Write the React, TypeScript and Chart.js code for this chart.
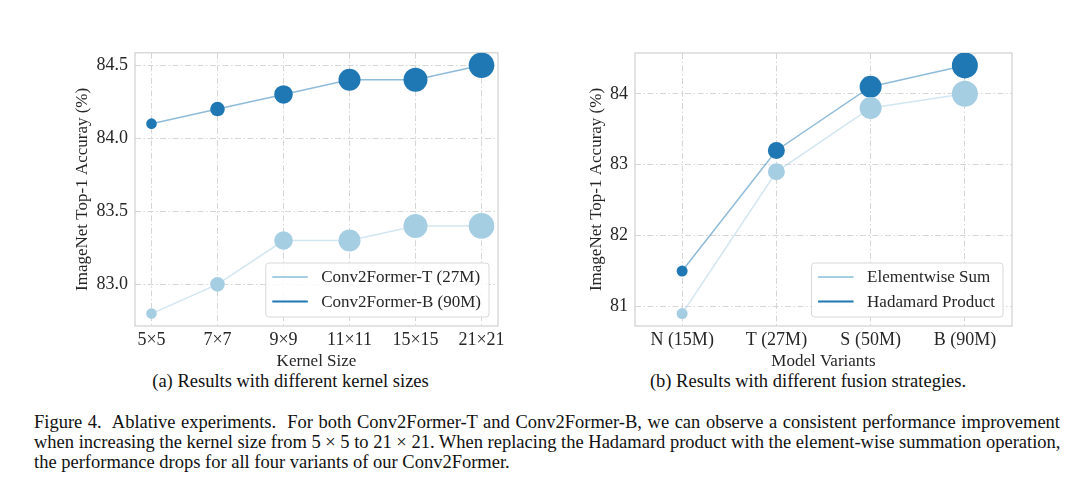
import React, { useEffect, useRef } from "react";
import { Chart, registerables } from "chart.js";

Chart.register(...registerables);

// ---------- data ----------
const kernelSizes = ["5×5", "7×7", "9×9", "11×11", "15×15", "21×21"];
const conv2FormerT = [82.8, 83.0, 83.3, 83.3, 83.4, 83.4];
const conv2FormerB = [84.1, 84.2, 84.3, 84.4, 84.4, 84.5];
const kernelYTicks = [83.0, 83.5, 84.0, 84.5];
const kernelMarkerRadii = [5.3, 7.3, 9.3, 11, 12, 12.8];

const modelVariants = ["N (15M)", "T (27M)", "S (50M)", "B (90M)"];
const elementwiseSum = [80.9, 82.9, 83.8, 84.0];
const hadamardProduct = [81.5, 83.2, 84.1, 84.4];
const variantYTicks = [81, 82, 83, 84];
const variantMarkerRadii = [5.5, 8.5, 11, 13];

// ---------- style ----------
const LIGHT = "#a6cee3";
const DARK = "#1f78b4";
const LIGHT_LINE = "rgba(166,206,227,0.5)";
const DARK_LINE = "rgba(31,120,180,0.5)";
const FONT = '"Liberation Serif", "Times New Roman", serif';
const TEXT = "#262626";
const GRID = "#d6d6d6";
const FRAME = "#d0d0d0";

const framePlugin = {
  id: "frame",
  beforeDatasetsDraw(chart: any) {
    const { ctx, chartArea: a } = chart;
    ctx.save();
    ctx.strokeStyle = FRAME;
    ctx.lineWidth = 1.2;
    ctx.strokeRect(a.left, a.top, a.right - a.left, a.bottom - a.top);
    ctx.restore();
  },
};

const innerLegendPlugin = {
  id: "innerLegend",
  afterDraw(chart: any) {
    const { ctx, chartArea: a } = chart;
    const ds = chart.data.datasets;
    ctx.save();
    ctx.font = `17px ${FONT}`;
    let maxW = 0;
    ds.forEach((d: any) => {
      maxW = Math.max(maxW, ctx.measureText(d.label).width);
    });
    const padL = 6.5, lineLen = 35.5, gap = 13.5, padR = 8;
    const w = padL + lineLen + gap + maxW + padR;
    const h = 54;
    const right = a.right - 9;
    const bottom = a.bottom - 9;
    const x = right - w;
    const y = bottom - h;
    ctx.beginPath();
    const r = 3;
    ctx.moveTo(x + r, y);
    ctx.lineTo(x + w - r, y);
    ctx.arcTo(x + w, y, x + w, y + r, r);
    ctx.lineTo(x + w, y + h - r);
    ctx.arcTo(x + w, y + h, x + w - r, y + h, r);
    ctx.lineTo(x + r, y + h);
    ctx.arcTo(x, y + h, x, y + h - r, r);
    ctx.lineTo(x, y + r);
    ctx.arcTo(x, y, x + r, y, r);
    ctx.closePath();
    ctx.fillStyle = "rgba(255,255,255,0.85)";
    ctx.fill();
    ctx.strokeStyle = "#d8d8d8";
    ctx.lineWidth = 1;
    ctx.stroke();
    ds.forEach((d: any, i: number) => {
      const cy = y + 14 + i * 24.5;
      ctx.beginPath();
      ctx.strokeStyle = d.pointBackgroundColor;
      ctx.lineWidth = 2;
      ctx.moveTo(x + padL, cy);
      ctx.lineTo(x + padL + lineLen, cy);
      ctx.stroke();
      ctx.fillStyle = TEXT;
      ctx.textBaseline = "middle";
      ctx.textAlign = "left";
      ctx.fillText(d.label, x + padL + lineLen + gap, cy + 1);
    });
    ctx.restore();
  },
};

type Series = { label: string; values: number[]; color: string; line: string };

type PanelProps = {
  left: number;
  top: number;
  width: number;
  height: number;
  labels: string[];
  series: Series[];
  radii: number[];
  yTicks: number[];
  yDecimals: number;
  xPad: number;
  xTitle: string;
  yTitle: string;
  yAxisWidth: number;
  yTitleOffset: number;
  padRight: number;
  padTop: number;
};

function zeroPadding(scale: any) {
  scale.paddingTop = 0;
  scale.paddingBottom = 0;
  scale.paddingLeft = 0;
  scale.paddingRight = 0;
}

function Panel(p: PanelProps) {
  const ref = useRef<HTMLCanvasElement | null>(null);
  useEffect(() => {
    if (!ref.current) return;
    const all = p.series.flatMap((s) => s.values);
    const lo = Math.min(...all);
    const hi = Math.max(...all);
    const m = (hi - lo) * 0.05;
    const chart = new Chart(ref.current, {
      type: "line",
      data: {
        datasets: p.series.map((s) => ({
          label: s.label,
          data: s.values.map((y, i) => ({ x: i, y })),
          borderColor: s.line,
          borderWidth: 1.5,
          pointBackgroundColor: s.color,
          pointBorderWidth: 0,
          pointRadius: p.radii,
          pointHoverRadius: p.radii,
          tension: 0,
          fill: false,
        })),
      },
      options: {
        animation: false,
        responsive: false,
        devicePixelRatio: 1,
        events: [],
        layout: { padding: { top: p.padTop, right: p.padRight, left: 0, bottom: 0 } },
        plugins: { legend: { display: false }, tooltip: { enabled: false } },
        scales: {
          x: {
            type: "linear",
            min: -p.xPad,
            max: p.labels.length - 1 + p.xPad,
            afterBuildTicks: (scale: any) => {
              scale.ticks = p.labels.map((_, i) => ({ value: i }));
            },
            afterFit: (scale: any) => {
              scale.height = 44;
              zeroPadding(scale);
            },
            ticks: {
              autoSkip: false,
              maxRotation: 0,
              padding: 3,
              color: TEXT,
              font: { family: FONT, size: 18, lineHeight: 1.2 },
              callback: (v: any) => p.labels[Math.round(Number(v))] ?? "",
            },
            grid: { color: GRID, lineWidth: 1, drawTicks: false },
            border: { display: false, dash: [6, 2.5, 1.5, 2.5] },
            title: {
              display: true,
              text: p.xTitle,
              color: TEXT,
              font: { family: FONT, size: 17, lineHeight: 1 },
              padding: 0,
            },
          },
          y: {
            type: "linear",
            min: lo - m,
            max: hi + m,
            afterBuildTicks: (scale: any) => {
              scale.ticks = p.yTicks.map((v) => ({ value: v }));
            },
            afterFit: (scale: any) => {
              scale.width = p.yAxisWidth;
              zeroPadding(scale);
            },
            ticks: {
              padding: 7,
              color: TEXT,
              font: { family: FONT, size: 18 },
              callback: (v: any) => Number(v).toFixed(p.yDecimals),
            },
            grid: { color: GRID, lineWidth: 1, drawTicks: false },
            border: { display: false, dash: [6, 2.5, 1.5, 2.5] },
            title: {
              display: true,
              text: p.yTitle,
              color: TEXT,
              font: { family: FONT, size: 17, lineHeight: 1 },
              padding: { top: p.yTitleOffset, bottom: 0 },
            },
          },
        },
      },
      plugins: [framePlugin, innerLegendPlugin],
    } as any);
    return () => chart.destroy();
  }, []);
  return (
    <canvas
      ref={ref}
      width={p.width}
      height={p.height}
      style={{ position: "absolute", left: p.left, top: p.top, width: p.width, height: p.height }}
    />
  );
}

const capStyle: React.CSSProperties = {
  position: "absolute",
  fontFamily: FONT,
  fontSize: "18.5px",
  lineHeight: "20px",
  color: "#111",
  whiteSpace: "nowrap",
};

const lineStyle = (top: number, justify: boolean): React.CSSProperties => ({
  position: "absolute",
  left: 34,
  top,
  width: 1026,
  height: 20,
  fontFamily: FONT,
  fontSize: "18.5px",
  lineHeight: "20px",
  color: "#111",
  whiteSpace: "nowrap",
  textAlign: justify ? "justify" : "left",
  textAlignLast: justify ? "justify" : "left",
});

export default function App() {
  return (
    <div style={{ position: "absolute", left: 0, top: 0, width: 1078, height: 486, background: "#fff", overflow: "hidden" }}>
      <Panel
        left={60}
        top={40}
        width={460}
        height={330}
        labels={kernelSizes}
        series={[
          { label: "Conv2Former-T (27M)", values: conv2FormerT, color: LIGHT, line: LIGHT_LINE },
          { label: "Conv2Former-B (90M)", values: conv2FormerB, color: DARK, line: DARK_LINE },
        ]}
        radii={kernelMarkerRadii}
        yTicks={kernelYTicks}
        yDecimals={1}
        xPad={0.25}
        xTitle="Kernel Size"
        yTitle="ImageNet Top-1 Accuray (%)"
        yAxisWidth={75}
        yTitleOffset={14.5}
        padRight={22}
        padTop={11}
      />
      <Panel
        left={570}
        top={40}
        width={460}
        height={330}
        labels={modelVariants}
        series={[
          { label: "Elementwise Sum", values: elementwiseSum, color: LIGHT, line: LIGHT_LINE },
          { label: "Hadamard Product", values: hadamardProduct, color: DARK, line: DARK_LINE },
        ]}
        radii={variantMarkerRadii}
        yTicks={variantYTicks}
        yDecimals={0}
        xPad={0.5}
        xTitle="Model Variants"
        yTitle="ImageNet Top-1 Accuray (%)"
        yAxisWidth={65}
        yTitleOffset={18.5}
        padRight={18}
        padTop={10}
      />
      <div style={{ ...capStyle, left: 290.5, top: 371, transform: "translateX(-50%)" }}>
        (a) Results with different kernel sizes
      </div>
      <div style={{ ...capStyle, left: 808, top: 371, transform: "translateX(-50%)" }}>
        (b) Results with different fusion strategies.
      </div>
      <div style={lineStyle(411.5, true)}>
        Figure 4.&nbsp; Ablative experiments.&nbsp; For both Conv2Former-T and Conv2Former-B, we can observe a consistent performance improvement
      </div>
      <div style={lineStyle(431.5, true)}>
        when increasing the kernel size from 5 × 5 to 21 × 21. When replacing the Hadamard product with the element-wise summation operation,
      </div>
      <div style={lineStyle(451.5, false)}>
        the performance drops for all four variants of our Conv2Former.
      </div>
    </div>
  );
}
